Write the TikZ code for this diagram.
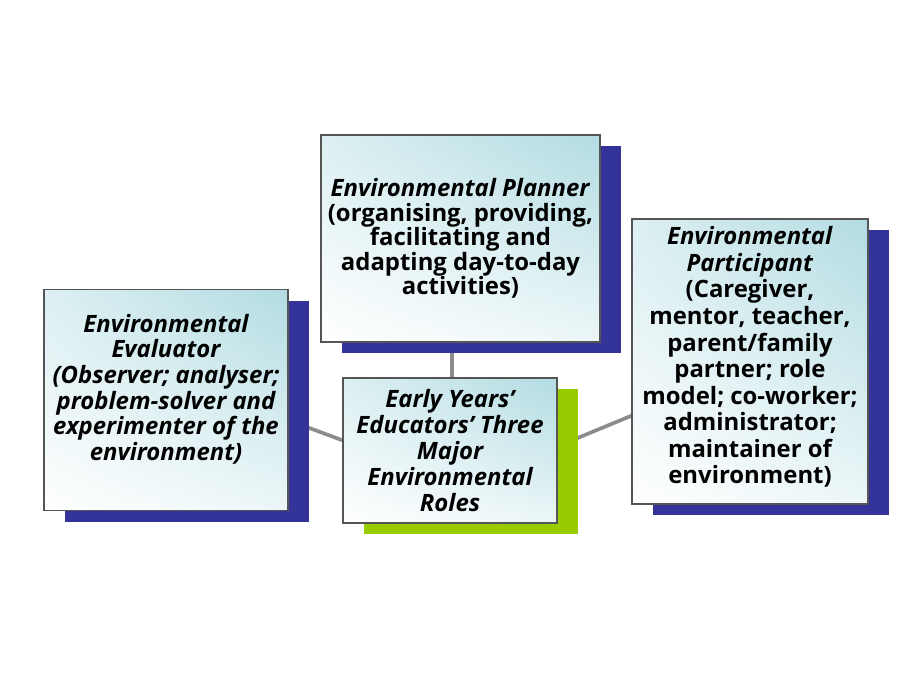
\documentclass[tikz,border=0pt]{standalone}
\usepackage{fontspec}
\setmainfont{Open Sans}
\usetikzlibrary{shadows,shadings}
\definecolor{roleblue}{HTML}{333399}
\definecolor{rolegreen}{HTML}{99CC00}
\definecolor{roleteal}{HTML}{B2DCE2}
\definecolor{rolegrey}{HTML}{555555}
\definecolor{linkgrey}{HTML}{8C8C8C}

\begin{document}
\begin{tikzpicture}[
    role/.style={draw=rolegrey, line width=0.8pt, align=center,
        upper right=roleteal, upper left=roleteal!45, lower left=white, lower right=roleteal!25,
        font=\fontsize{17}{18.2}\selectfont\bfseries, inner sep=2pt},
    blueshadow/.style={general shadow={fill=roleblue, shadow xshift=0.525cm, shadow yshift=-0.275cm}},
    greenshadow/.style={general shadow={fill=rolegreen, shadow xshift=0.525cm, shadow yshift=-0.275cm}},
    link/.style={draw=linkgrey, line width=2.6pt}]

    \useasboundingbox[fill=white] (0,0) rectangle (22.5,-16.875);

    % connectors first, they sit behind the boxes
    \coordinate (plan-c) at (11.5125,-5.9625);
    \coordinate (core-c) at (11.25,-11.2625);
    \coordinate (eval-c) at (4.15,-10.0);
    \coordinate (part-c) at (18.75,-9.0375);
    \draw[link] ([shift={(0.05,0)}]core-c) -- ([shift={(0.05,0)}]core-c |- plan-c);
    \draw[link] ([shift={(3.05,-0.5)}]eval-c) -- ([shift={(-2.675,0.25)}]core-c);
    \draw[link] ([shift={(2.675,0.1)}]core-c) -- ([shift={(-2.95,-1.35)}]part-c);

    \node[role, blueshadow, minimum width=6.975cm, minimum height=5.175cm,
          font=\fontsize{17}{17.5}\selectfont\bfseries] (plan) at (plan-c)
        {\textit{Environmental Planner}\\(organising, providing,\\facilitating and\\adapting day-to-day\\activities)};

    \node[role, greenshadow, minimum width=5.35cm, minimum height=3.625cm,
          font=\fontsize{17}{18.4}\selectfont\bfseries] (core) at (core-c)
        {\itshape Early Years'\\\itshape Educators' Three\\\itshape Major\\\itshape Environmental\\\itshape Roles};

    \node[role, blueshadow, minimum width=6.1cm, minimum height=5.525cm] (eval) at (eval-c)
        {\itshape Environmental\\\itshape Evaluator\\\itshape (Observer; analyser;\\\itshape problem-solver and\\\itshape experimenter of the\\\itshape environment)\\};

    \node[role, blueshadow, minimum width=5.9cm, minimum height=7.125cm,
          font=\fontsize{17}{18.9}\selectfont\bfseries] (part) at (part-c)
        {\textit{Environmental}\\\textit{Participant}\\(Caregiver,\\mentor, teacher,\\parent/family\\partner; role\\model; co-worker;\\administrator;\\maintainer of\\environment)\\[-0.35cm]};

\end{tikzpicture}
\end{document}
